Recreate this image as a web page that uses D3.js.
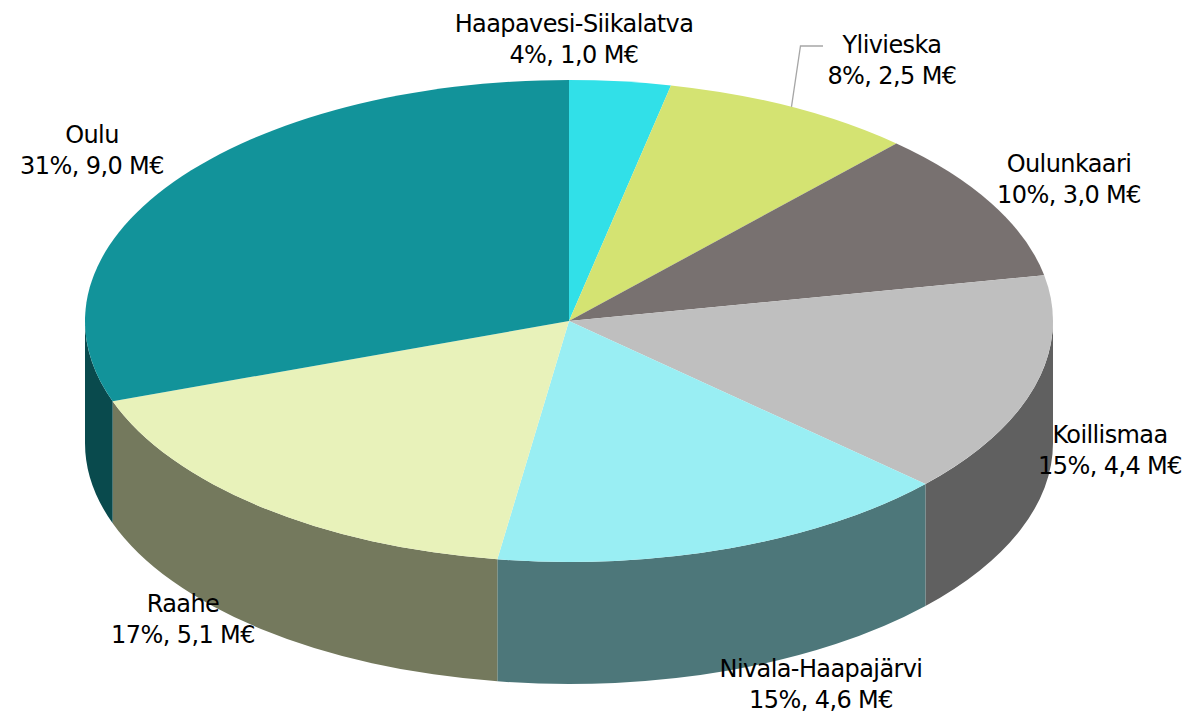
<!DOCTYPE html>
<html>
<head>
<meta charset="utf-8">
<script src="https://cdn.jsdelivr.net/npm/d3@7"></script>
<style>
  body { margin: 0; background: #fff; }
  svg text { font-family: "DejaVu Sans", Verdana, sans-serif; font-size: 24px; letter-spacing: -0.6px; fill: #000; }
</style>
</head>
<body>
<div id="chart"></div>
<script>
// data
var regions = ["Haapavesi-Siikalatva", "Ylivieska", "Oulunkaari", "Koillismaa", "Nivala-Haapajärvi", "Raahe", "Oulu"];
var amounts = [1.0, 2.5, 3.0, 4.4, 4.6, 5.1, 9.0];   // M€
var shares  = ["4%", "8%", "10%", "15%", "15%", "17%", "31%"];
var topColors = ["#31E0E8", "#D4E372", "#787170", "#BFBFBF", "#99EEF3", "#E8F2BA", "#12939A"];

// layout
var width = 1191, height = 717;
var cx = 569, cy = 321, rx = 484, ry = 241, depth = 122;
var lineGap = 31;
// label anchors: centre x, first baseline
var labelPos = [[574, 32], [892, 53], [1069, 172], [1110, 443], [821, 677], [183, 612], [92, 143]];
var leaderLabels = {1: true};

var fmt = function(v) { return d3.format(".1f")(v).replace(".", ","); };

var svg = d3.select("#chart")
    .append("svg")
    .attr("width", width)
    .attr("height", height);

var pie = d3.pie().sort(null).value(function(d) { return d; });
var arcs = pie(amounts);

function pt(a, dy) {
    return [cx + rx * Math.sin(a), cy - ry * Math.cos(a) + (dy || 0)];
}

function sidePath(s, e) {
    var p0 = pt(s, 0), p1 = pt(e, 0), p2 = pt(e, depth), p3 = pt(s, depth);
    return "M" + p0 + "A" + rx + "," + ry + " 0 0 1 " + p1 +
           "L" + p2 + "A" + rx + "," + ry + " 0 0 0 " + p3 + "Z";
}

function topPath(s, e) {
    var p0 = pt(s), p1 = pt(e);
    var large = (e - s) > Math.PI ? 1 : 0;
    return "M" + cx + "," + cy + "L" + p0 + "A" + rx + "," + ry + " 0 " + large + " 1 " + p1 + "Z";
}

var sides = svg.append("g").attr("class", "sides");
var tops = svg.append("g").attr("class", "tops");

arcs.forEach(function(d, i) {
    var s = Math.max(d.startAngle, Math.PI / 2),
        e = Math.min(d.endAngle, Math.PI * 3 / 2);
    if (e > s) {
        var c = d3.rgb(topColors[i]);
        sides.append("path")
            .attr("d", sidePath(s, e))
            .attr("fill", d3.rgb(c.r * 0.5, c.g * 0.5, c.b * 0.5));
    }
    tops.append("path")
        .attr("d", topPath(d.startAngle, d.endAngle))
        .attr("fill", topColors[i]);
});

// leader line for Ylivieska
arcs.forEach(function(d, i) {
    if (!leaderLabels[i]) return;
    var mid = (d.startAngle + d.endAngle) / 2;
    var end = pt(mid);
    var lp = labelPos[i];
    var y0 = lp[1] - 7;
    svg.append("polyline")
        .attr("points", [[lp[0] - 69, y0], [end[0] + 9, y0], end].join(" "))
        .attr("fill", "none")
        .attr("stroke", "#A6A6A6")
        .attr("stroke-width", 1.3);
});

var labels = svg.append("g").attr("class", "labels");
regions.forEach(function(name, i) {
    var t = labels.append("text")
        .attr("text-anchor", "middle")
        .attr("x", labelPos[i][0])
        .attr("y", labelPos[i][1]);
    t.append("tspan").attr("x", labelPos[i][0]).text(name);
    t.append("tspan").attr("x", labelPos[i][0]).attr("dy", lineGap)
        .text(shares[i] + ", " + fmt(amounts[i]) + " M€");
});
</script>
</body>
</html>
